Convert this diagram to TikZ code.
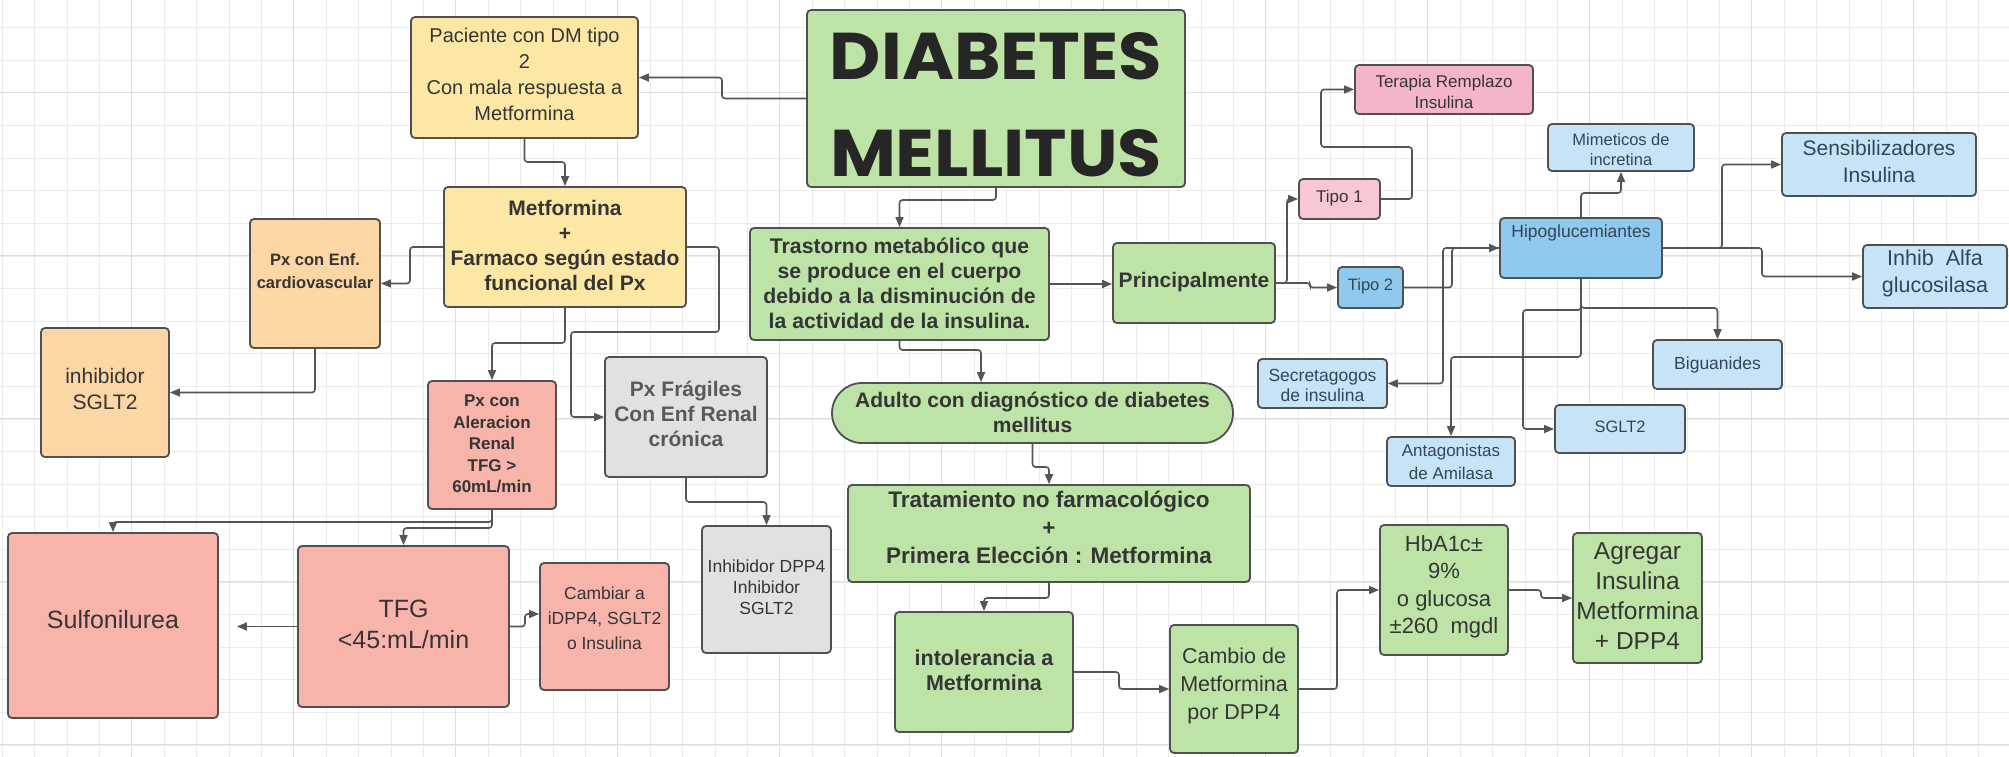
\documentclass[tikz,border=0pt]{standalone}
\usepackage{fontspec}
\setmainfont{Liberation Sans}
\newfontfamily\titlefont{Poppins}
\usetikzlibrary{arrows.meta}
\definecolor{strokec}{HTML}{505050}
\definecolor{connc}{HTML}{555555}
\definecolor{textc}{HTML}{353535}
\definecolor{bluetext}{HTML}{34455A}
\definecolor{yel}{HTML}{FDE7A4}
\definecolor{peach}{HTML}{FCD6A4}
\definecolor{salmon}{HTML}{F8B3AB}
\definecolor{grayb}{HTML}{E1E1E1}
\definecolor{greenb}{HTML}{BDE3A7}
\definecolor{pinkl}{HTML}{F7C8D3}
\definecolor{pinkd}{HTML}{F3B5C7}
\definecolor{blued}{HTML}{8FC9EE}
\definecolor{bluel}{HTML}{C7E4F7}
\definecolor{gridmin}{HTML}{EBEBEB}
\definecolor{gridmaj}{HTML}{DEDEDE}
\begin{document}
\begin{tikzpicture}[x=1pt,y=-1pt,
  bx/.style={draw=strokec, line width=1.8pt, rounded corners=4pt, inner sep=0pt, anchor=center},
  tx/.style n args={2}{align=center, inner sep=0pt, text=textc, font=\fontsize{#1}{#2}\selectfont},
  txb/.style n args={2}{align=center, inner sep=0pt, text=textc, font=\fontsize{#1}{#2}\selectfont\bfseries},
  conn/.style={draw=connc, line width=1.6pt, rounded corners=3pt, -{Triangle[length=10pt,width=8pt]}},
  gmin/.style={draw=gridmin, line width=0.8pt},
  gmaj/.style={draw=gridmaj, line width=1pt}
]
\fill[white] (0,0) rectangle (2009,757);
\useasboundingbox (0,0) rectangle (2009,757);
% grid
\foreach \i in {0,...,61} \draw[gmin] ({2.2+32.4*\i},0) -- ({2.2+32.4*\i},757);
\foreach \i in {0,...,22} \draw[gmin] (0,{27.7+32.6*\i}) -- (2009,{27.7+32.6*\i});
\foreach \i in {4,9,...,59} \draw[gmaj] ({2.2+32.4*\i},0) -- ({2.2+32.4*\i},757);
\foreach \i in {2,7,12,17,22} \draw[gmaj] (0,{27.7+32.6*\i}) -- (2009,{27.7+32.6*\i});

% ---------- boxes ----------
\node[bx, fill=yel, minimum width=227pt, minimum height=121pt] (pac) at (524.5,77.5) {};
\node[tx={20}{26}] (pact) at (524.5,74) {Paciente con DM tipo\\2\\Con mala respuesta a\\Metformina};

\node[bx, fill=yel, minimum width=242pt, minimum height=120pt] (met) at (565,247) {};
\node[txb={21}{25}] (mett) at (565,245) {Metformina\\+\\Farmaco según estado\\funcional del Px};

\node[bx, fill=peach, minimum width=130pt, minimum height=129pt] (card) at (315,283.5) {};
\node[txb={16.5}{23}] (cardt) at (315,271) {Px con Enf.\\cardiovascular};

\node[bx, fill=peach, minimum width=128pt, minimum height=129pt] (sglta) at (105,392.5) {};
\node[tx={21}{26}] (sglta-t) at (105,389) {inhibidor\\SGLT2};

\node[bx, fill=salmon, minimum width=128pt, minimum height=128pt] (aler) at (492,445) {};
\node[txb={17}{21.5}] (alert) at (492,444) {Px con\\Aleracion\\Renal\\TFG >\\60mL/min};

\node[bx, fill=grayb, minimum width=162pt, minimum height=120pt] (frag) at (686,417) {};
\node[txb={21}{25}, text=black!65] (fragt) at (686,414) {Px Frágiles\\Con Enf Renal\\crónica};

\node[bx, fill=grayb, minimum width=129pt, minimum height=127pt] (dpp) at (766.5,589.5) {};
\node[tx={17.5}{21}] (dppt) at (766.5,587) {Inhibidor DPP4\\Inhibidor\\SGLT2};

\node[bx, fill=salmon, minimum width=210pt, minimum height=185pt] (sulf) at (113,625.5) {};
\node[tx={25}{30}] (sulft) at (113,620) {Sulfonilurea};

\node[bx, fill=salmon, minimum width=211pt, minimum height=161pt] (tfg) at (403.5,626.5) {};
\node[tx={25}{31}] (tfgt) at (403.5,624) {TFG\\<45:mL/min};

\node[bx, fill=salmon, minimum width=129pt, minimum height=127pt] (camb) at (604.5,626.5) {};
\node[tx={17.5}{25}] (cambt) at (604.5,618) {Cambiar a\\iDPP4, SGLT2\\o Insulina};

\node[bx, fill=greenb, minimum width=378pt, minimum height=177pt] (dm) at (996,98.5) {};
\node[inner sep=0pt, text=black!85] (dmta) at (996,56.5) {\resizebox{332pt}{47pt}{\titlefont\bfseries DIABETES}};
\node[inner sep=0pt, text=black!85] (dmtb) at (996,153.5) {\resizebox{332pt}{47pt}{\titlefont\bfseries MELLITUS}};

\node[bx, fill=greenb, minimum width=299pt, minimum height=112pt] (tras) at (899.5,284) {};
\node[txb={21.2}{25}] (trast) at (899.5,283) {Trastorno metabólico que\\se produce en el cuerpo\\debido a la disminución de\\la actividad de la insulina.};

\node[bx, fill=greenb, minimum width=162pt, minimum height=80pt] (princ) at (1194,283) {};
\node[txb={21}{25}] (princt) at (1194,282) {Principalmente};

\node[bx, fill=pinkl, minimum width=81pt, minimum height=40pt] (tipoa) at (1339.5,199) {};
\node[tx={17}{21}] (tipoat) at (1339.5,198.5) {Tipo 1};

\node[bx, fill=pinkd, minimum width=178pt, minimum height=49pt] (ter) at (1444,89.5) {};
\node[tx={17}{21}] (tert) at (1444,92) {Terapia Remplazo\\Insulina};

\node[bx, fill=blued, minimum width=65pt, minimum height=41pt] (tipob) at (1370.5,287.5) {};
\node[tx={16.5}{21}, text=bluetext] (tipobt) at (1370.5,286) {Tipo 2};

\node[bx, fill=blued, minimum width=162pt, minimum height=60pt] (hipo) at (1581,248) {};
\node[tx={17.5}{21}, text=bluetext] (hipot) at (1581,233) {Hipoglucemiantes};

\node[bx, fill=bluel, minimum width=146pt, minimum height=47pt] (mim) at (1621,147.5) {};
\node[tx={16.5}{20}, text=bluetext] (mimt) at (1621,150) {Mimeticos de\\incretina};

\node[bx, fill=bluel, minimum width=194pt, minimum height=63pt] (sens) at (1879,164.5) {};
\node[tx={21}{27}, text=bluetext] (senst) at (1879,161.5) {Sensibilizadores\\Insulina};

\node[bx, fill=bluel, minimum width=144pt, minimum height=63pt] (alfa) at (1935,276.5) {};
\node[tx={21.5}{27}, text=bluetext] (alfat) at (1935,273.5) {Inhib\ \ Alfa\\glucosilasa};

\node[bx, fill=bluel, minimum width=129pt, minimum height=49pt] (big) at (1717.5,364.5) {};
\node[tx={17.5}{21}, text=bluetext] (bigt) at (1717.5,364.5) {Biguanides};

\node[bx, fill=bluel, minimum width=129pt, minimum height=49pt] (secr) at (1322.5,383.5) {};
\node[tx={17.5}{20}, text=bluetext] (secrt) at (1322.5,385) {Secretagogos\\de insulina};

\node[bx, fill=bluel, minimum width=130pt, minimum height=48pt] (sgltb) at (1620,429) {};
\node[tx={16.5}{20}, text=bluetext] (sgltbt) at (1620,427) {SGLT2};

\node[bx, fill=bluel, minimum width=128pt, minimum height=49pt] (antag) at (1451,461.5) {};
\node[tx={17}{23}, text=bluetext] (antagt) at (1451,461.5) {Antagonistas\\de Amilasa};

\node[bx, fill=greenb, rounded corners=30pt, minimum width=401pt, minimum height=60pt] (adul) at (1032.5,413) {};
\node[txb={21}{25}] (adult) at (1032.5,412.5) {Adulto con diagnóstico de diabetes\\mellitus};

\node[bx, fill=greenb, minimum width=402pt, minimum height=97pt] (trat) at (1049,533.5) {};
\node[txb={22.5}{28}] (tratt) at (1049,527) {Tratamiento no farmacológico\\+\\Primera Elección : Metformina};

\node[bx, fill=greenb, minimum width=178pt, minimum height=120pt] (intol) at (984,672) {};
\node[txb={21.5}{25}] (intolt) at (984,670.5) {intolerancia a\\Metformina};

\node[bx, fill=greenb, minimum width=128pt, minimum height=128pt] (camd) at (1234,689) {};
\node[tx={21.5}{28}] (camdt) at (1234,686) {Cambio de\\Metformina\\por DPP4};

\node[bx, fill=greenb, minimum width=128pt, minimum height=130pt] (hba) at (1444,590) {};
\node[tx={22}{27.5}] (hbat) at (1444,587) {HbA1c±\\9\%\\o glucosa\\±260\ \ mgdl};

\node[bx, fill=greenb, minimum width=129pt, minimum height=130pt] (agr) at (1637.5,598) {};
\node[tx={24.5}{30}] (agrt) at (1637.5,596) {Agregar\\Insulina\\Metformina\\+ DPP4};

% ---------- connectors ----------
\draw[conn] (dm.west) -- (722,98.5) |- (pac.east);
\draw[conn] (pac.south) |- (565,162) -- (met.north);
\draw[conn] (met.west) -- (410,247) |- (card.east);
\draw[conn] (met.south) |- (492,343) -- (aler.north);
\draw[conn] (met.east) -- (719,247) |- (571,332) |- (frag.west);
\draw[conn] (card.south) |- (sglta.east);
\draw[conn] (aler.south) |- (113,522) -- (sulf.north);
\draw[conn] (aler.south) |- (403.5,528) -- (tfg.north);
\draw[conn, shorten >=18pt] (tfg.west) -- (tfg.west -| sulf.east);
\draw[conn] (tfg.east) -- (525,626.5) |- ([yshift=12.5pt]camb.west);
\draw[conn] (frag.south) |- (766.5,502) -- (dpp.north);
\draw[conn] (dm.south) |- (899.5,200) -- (tras.north);
\draw[conn] (tras.east) -- (tras.east -| princ.west);
\draw[conn] (tras.south) |- (981,350) -- (adul.north -| 981,0);
\draw[conn] (princ.east) -- (1287,283) |- (tipoa.west);
\draw[conn] (princ.east) -- (1310,283) |- (tipob.west);
\draw[conn] (tipoa.east) -- (1412,199) |- (1321,147) |- (ter.west);
\draw[conn] (tipob.east) -- (1452,287.5) |- (hipo.west);
\draw[conn] (hipo.west) -- (1443,248) |- (secr.east);
\draw[conn] (hipo.north) |- (1621,193) -- (mim.south);
\draw[conn] (hipo.east) -- (1722,248) |- (sens.west);
\draw[conn] (hipo.east) -- (1762,248) |- (alfa.west);
\draw[conn] (hipo.south) |- (1717.5,308) -- (big.north);
\draw[conn] (hipo.south) |- (1451,357) -- (antag.north);
\draw[conn] (hipo.south) |- (1523,310) |- (sgltb.west);
\draw[conn] (adul.south) |- (1049,467) -- (trat.north);
\draw[conn] (trat.south) |- (984,598) -- (intol.north);
\draw[conn] (intol.east) -- (1119,672) |- (camd.west);
\draw[conn] (camd.east) -- (1337,689) |- (hba.west);
\draw[conn] (hba.east) -- (1541,590) |- (agr.west);
\end{tikzpicture}
\end{document}
